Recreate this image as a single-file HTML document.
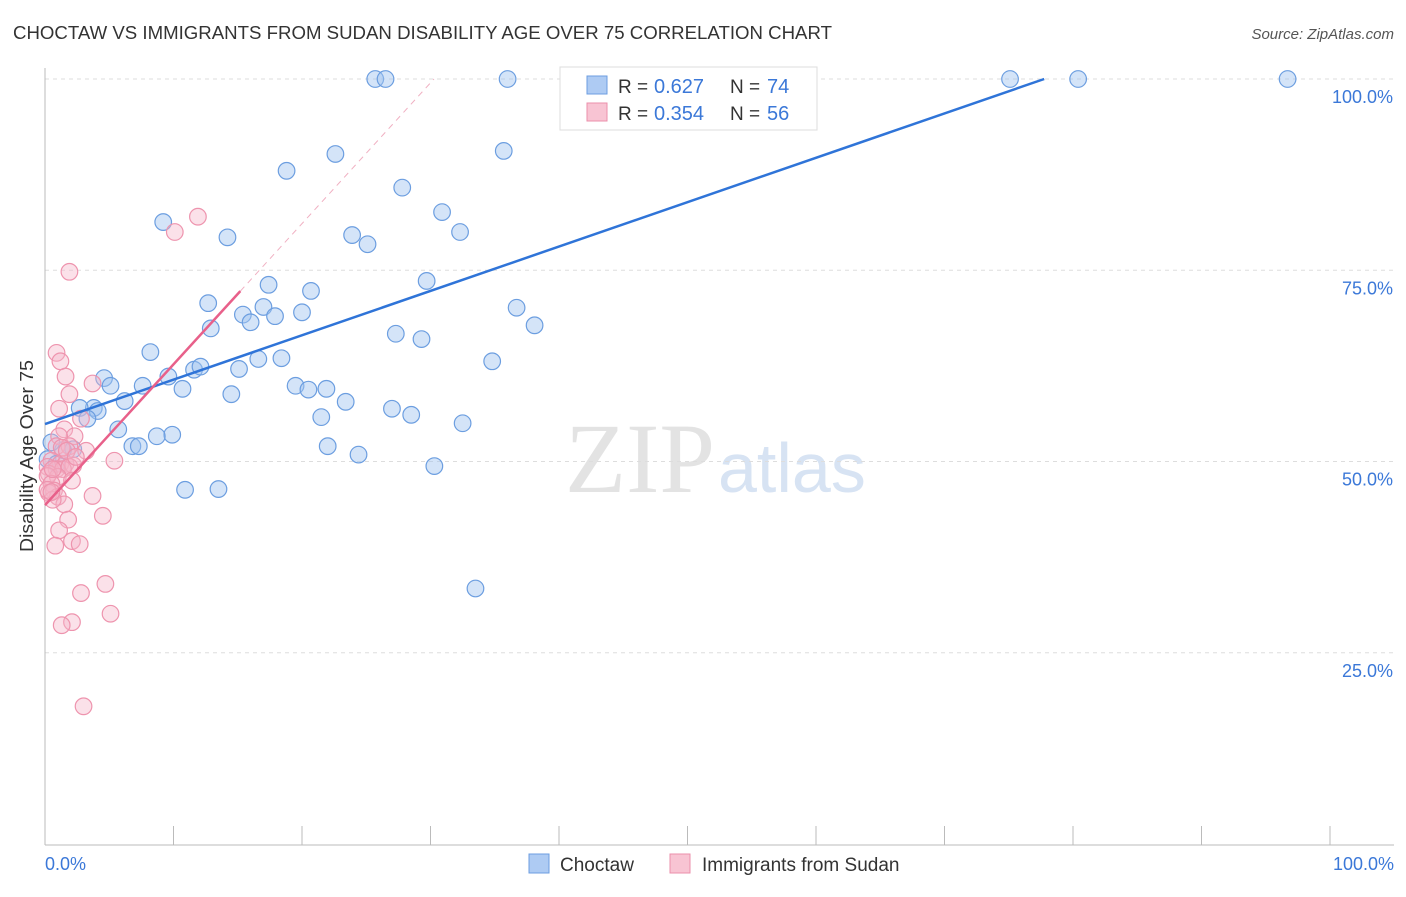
<!DOCTYPE html>
<html><head><meta charset="utf-8"><style>
body{margin:0;background:#fff;font-family:"Liberation Sans",sans-serif;}
</style></head><body>
<svg width="1406" height="892" xmlns="http://www.w3.org/2000/svg">
<text x="13" y="39" font-size="18" textLength="819" lengthAdjust="spacingAndGlyphs" fill="#333">CHOCTAW VS IMMIGRANTS FROM SUDAN DISABILITY AGE OVER 75 CORRELATION CHART</text>
<text x="1394" y="39" font-size="15" fill="#555" font-style="italic" text-anchor="end">Source: ZipAtlas.com</text>
<text x="715" y="492" font-size="100" fill="#e3e3e3" text-anchor="end" font-family="Liberation Serif">ZIP</text>
<text x="718" y="492" font-size="70" fill="#d7e3f3">atlas</text>
<g id="grid"></g>
<g id="axes"></g>
<g id="pts"></g>
<g id="lines"></g>
<text transform="translate(33,456) rotate(-90)" font-size="18" textLength="192" lengthAdjust="spacingAndGlyphs" fill="#333" text-anchor="middle">Disability Age Over 75</text>
<text x="45" y="870" font-size="18" fill="#3b78d8">0.0%</text>
<text x="1394" y="870" font-size="18" fill="#3b78d8" text-anchor="end">100.0%</text>
<g>
<rect x="560" y="67" width="257" height="63" fill="#fff" stroke="#ddd"/>
<rect x="587" y="76" width="20" height="18" fill="#aecbf3" stroke="#6c9ee0"/>
<rect x="587" y="103" width="20" height="18" fill="#f8c4d3" stroke="#eb8fab"/>
<text x="618" y="93" font-size="19" fill="#333">R = </text><text x="654" y="93" font-size="20" fill="#3b78d8">0.627</text>
<text x="730" y="93" font-size="19" fill="#333">N = </text><text x="767" y="93" font-size="20" fill="#3b78d8">74</text>
<text x="618" y="120" font-size="19" fill="#333">R = </text><text x="654" y="120" font-size="20" fill="#3b78d8">0.354</text>
<text x="730" y="120" font-size="19" fill="#333">N = </text><text x="767" y="120" font-size="20" fill="#3b78d8">56</text>
</g>
<g>
<rect x="529" y="854" width="20" height="19" fill="#aecbf3" stroke="#6c9ee0"/>
<text x="560" y="871" font-size="19" fill="#333">Choctaw</text>
<rect x="670" y="854" width="20" height="19" fill="#f8c4d3" stroke="#eb8fab"/>
<text x="702" y="871" font-size="19" fill="#333">Immigrants from Sudan</text>
</g>
</svg>
<script>
const yTicks=[25,50,75,100];
const xTicks=[0,10,20,30,40,50,60,70,80,90,100];
const blueX=[25.7,26.5,36.0,45.4,75.1,80.4,96.7,35.7,22.6,18.8,27.8,9.2,30.9,32.3,14.2,23.9,25.1,29.7,17.4,20.7,12.7,17.0,36.7,15.4,16.0,17.9,20.0,38.1,12.9,27.3,29.3,8.2,34.8,16.6,18.4,4.6,11.6,12.1,9.6,15.1,5.1,7.6,10.7,19.5,20.5,21.9,14.5,23.4,6.2,3.8,2.7,28.5,27.0,4.1,21.5,6.8,7.3,3.3,9.9,5.7,8.7,32.5,2.2,22.0,24.4,30.3,0.2,0.9,10.9,13.5,33.5,1.4,0.5];
const blueY=[100,100,100,100,100,100,100,90.6,90.2,88.0,85.8,81.3,82.6,80.0,79.3,79.6,78.4,73.6,73.1,72.3,70.7,70.2,70.1,69.2,68.2,69.0,69.5,67.8,67.4,66.7,66.0,64.3,63.1,63.4,63.5,60.9,62.0,62.4,61.1,62.1,59.9,59.9,59.5,59.9,59.4,59.5,58.8,57.8,57.9,57.0,57.0,56.1,56.9,56.6,55.8,52.0,52.0,55.6,53.5,54.2,53.3,55.0,51.6,52.0,50.9,49.4,50.3,49.7,46.3,46.4,33.4,51.5,52.5];
const pinkX=[1.9,11.9,10.1,0.9,1.2,1.6,3.7,1.9,1.1,2.8,1.5,2.3,1.1,0.9,1.9,3.2,5.4,0.5,1.2,1.6,2.2,0.2,0.9,1.4,1.9,0.3,1.0,2.1,0.2,0.5,0.7,0.3,1.0,3.7,1.5,0.6,4.5,1.8,1.1,2.1,2.7,0.8,4.7,2.8,5.1,2.1,1.3,3.0,0.2,0.5,1.3,1.7,2.4,0.6];
const pinkY=[74.8,82.0,80.0,64.2,63.1,61.1,60.2,58.8,56.9,55.6,54.2,53.3,53.3,52.0,52.0,51.4,50.1,50.1,49.7,49.7,49.5,49.3,49.0,49.0,49.3,48.4,48.0,47.5,48.1,47.1,46.2,45.9,45.4,45.5,44.4,45.0,42.9,42.4,41.0,39.6,39.2,39.0,34.0,32.8,30.1,29.0,28.6,18.0,46.3,46.0,51.8,51.4,50.6,49.0];
const blueLine=[54.9,0.58], pinkLine=[44.3,1.84];
const X=v=>45+v*12.85, Y=v=>844-v*7.65;
const NS="http://www.w3.org/2000/svg";
function mk(t,a,p){const e=document.createElementNS(NS,t);for(const k in a)e.setAttribute(k,a[k]);document.getElementById(p).appendChild(e);return e;}
for(const t of yTicks){
 const g=mk('line',{x1:45,x2:1394,y1:Y(t),y2:Y(t),stroke:'#ddd','stroke-dasharray':'4,4'},'grid');
 
 
 const l=mk('text',{x:1393,y:Y(t)+24,'font-size':18,fill:'#3b78d8','text-anchor':'end'},'grid');
 l.textContent=t.toFixed(1)+'%';
 
 
}
const ax=mk('line',{x1:45,x2:45,y1:68,y2:845,stroke:'#bbb'},'axes');


const bx=mk('line',{x1:45,x2:1394,y1:845,y2:845,stroke:'#bbb'},'axes');


for(const t of xTicks){
 const tk=mk('line',{x1:X(t),x2:X(t),y1:826,y2:845,stroke:'#bbb'},'axes');
 
 
}
blueX.forEach((x,i)=>{
 const c=mk('circle',{cx:X(x),cy:Y(blueY[i]),r:8.3,fill:'rgba(160,196,240,0.45)',stroke:'#6c9ee0','stroke-width':1.2},'pts');
 
 
});
pinkX.forEach((x,i)=>{
 const c=mk('circle',{cx:X(x),cy:Y(pinkY[i]),r:8.3,fill:'rgba(246,180,200,0.4)',stroke:'#ee94ae','stroke-width':1.2},'pts');
 
 
});
const bxe=(100-blueLine[0])/blueLine[1];
const bl=mk('line',{x1:X(0),y1:Y(blueLine[0]),x2:X(bxe),y2:Y(100),stroke:'#2f74d8','stroke-width':2.5},'lines');


const pxe=(100-pinkLine[0])/pinkLine[1];
const pd=mk('line',{x1:X(15.2),y1:Y(pinkLine[0]+pinkLine[1]*15.2),x2:X(pxe),y2:Y(100),stroke:'#f0b0c2','stroke-width':1,'stroke-dasharray':'6,5'},'lines');


const pl=mk('line',{x1:X(0),y1:Y(pinkLine[0]),x2:X(15.2),y2:Y(pinkLine[0]+pinkLine[1]*15.2),stroke:'#e8608a','stroke-width':2.5},'lines');


</script>
</body></html>
